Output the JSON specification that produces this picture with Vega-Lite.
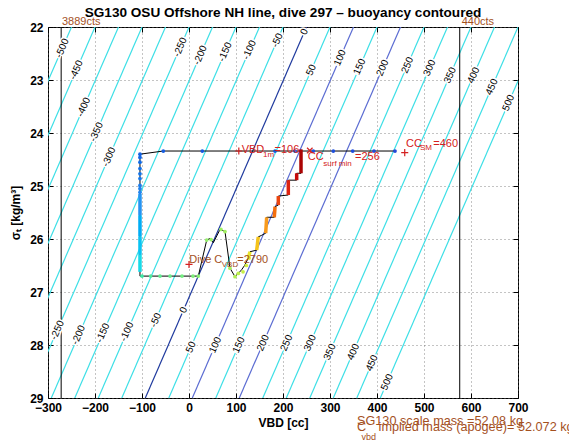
{
"$schema":"https://vega.github.io/schema/vega-lite/v6.json",
"width":470,"height":371,
"autosize":{"type":"none"},
"padding":{"left":48,"top":27,"right":51,"bottom":44},
"background":"white",
"title":{"text":"SG130 OSU Offshore NH line, dive 297 – buoyancy contoured","font":"Liberation Sans","fontSize":13.6,"fontWeight":"bold","color":"#000","offset":-4,"anchor":"middle"},
"config":{"font":"Liberation Sans","view":{"stroke":"#000","strokeWidth":1},
"axis":{"domain":false,"tickColor":"#000","tickWidth":1,"labelFont":"Liberation Sans","labelFontSize":12,"labelFontWeight":"bold","labelColor":"#000","titleFont":"Liberation Sans","titleFontSize":12,"titleFontWeight":"bold","titleColor":"#000","gridColor":"#6b6b6b","gridDash":[1,3],"gridOpacity":1,"gridWidth":0.8},
"text":{"font":"Liberation Sans"}},
"datasets":{
"contours":[
{"B":-500,"v":-250,"s":22},{"B":-500,"v":-593,"s":29},
{"B":-450,"v":-200,"s":22},{"B":-450,"v":-543,"s":29},
{"B":-400,"v":-150,"s":22},{"B":-400,"v":-493,"s":29},
{"B":-350,"v":-100,"s":22},{"B":-350,"v":-443,"s":29},
{"B":-300,"v":-50,"s":22},{"B":-300,"v":-393,"s":29},
{"B":-250,"v":0,"s":22},{"B":-250,"v":-343,"s":29},
{"B":-200,"v":50,"s":22},{"B":-200,"v":-293,"s":29},
{"B":-150,"v":100,"s":22},{"B":-150,"v":-243,"s":29},
{"B":-100,"v":150,"s":22},{"B":-100,"v":-193,"s":29},
{"B":-50,"v":200,"s":22},{"B":-50,"v":-143,"s":29},
{"B":0,"v":250,"s":22},{"B":0,"v":-93,"s":29},
{"B":50,"v":300,"s":22},{"B":50,"v":-43,"s":29},
{"B":100,"v":350,"s":22},{"B":100,"v":7,"s":29},
{"B":150,"v":400,"s":22},{"B":150,"v":57,"s":29},
{"B":200,"v":450,"s":22},{"B":200,"v":107,"s":29},
{"B":250,"v":500,"s":22},{"B":250,"v":157,"s":29},
{"B":300,"v":550,"s":22},{"B":300,"v":207,"s":29},
{"B":350,"v":600,"s":22},{"B":350,"v":257,"s":29},
{"B":400,"v":650,"s":22},{"B":400,"v":307,"s":29},
{"B":450,"v":700,"s":22},{"B":450,"v":357,"s":29},
{"B":500,"v":750,"s":22},{"B":500,"v":407,"s":29}
],
"clabels":[
{"B":"-500","v":-269.6,"s":22.40},{"B":"-450","v":-239.7,"s":22.81},{"B":"-400","v":-224.0,"s":23.51},{"B":"-350","v":-197.0,"s":23.98},{"B":"-300","v":-170.1,"s":24.45},
{"B":"-250","v":-18.5,"s":22.38},{"B":"-200","v":24.1,"s":22.53},{"B":"-150","v":76.9,"s":22.47},{"B":"-100","v":128.7,"s":22.43},{"B":"-50","v":188.0,"s":22.25},
{"B":"0","v":245.4,"s":22.09},{"B":"50","v":260.3,"s":22.81},{"B":"100","v":321.3,"s":22.58},{"B":"150","v":363.0,"s":22.75},{"B":"200","v":412.0,"s":22.77},
{"B":"250","v":464.9,"s":22.72},{"B":"300","v":512.0,"s":22.77},{"B":"350","v":555.6,"s":22.91},{"B":"400","v":605.6,"s":22.91},{"B":"450","v":644.5,"s":23.13},{"B":"500","v":679.7,"s":23.43},
{"B":"-250","v":-280.1,"s":27.72},{"B":"-200","v":-234.9,"s":27.81},{"B":"-150","v":-183.0,"s":27.77},{"B":"-100","v":-132.0,"s":27.75},{"B":"-50","v":-70.7,"s":27.53},
{"B":"0","v":-11.5,"s":27.34},{"B":"50","v":4.2,"s":28.04},{"B":"100","v":56.0,"s":28.0},{"B":"150","v":106.0,"s":28.0},{"B":"200","v":157.8,"s":27.96},
{"B":"250","v":207.8,"s":27.96},{"B":"300","v":257.8,"s":27.96},{"B":"350","v":299.6,"s":28.13},{"B":"400","v":349.6,"s":28.13},{"B":"450","v":389.3,"s":28.34},{"B":"500","v":421.7,"s":28.70}
],
"trace":[
{"i":1,"v":438.3,"s":24.34},{"i":2,"v":393.6,"s":24.34},{"i":3,"v":348.3,"s":24.34},{"i":4,"v":307,"s":24.34},{"i":5,"v":264.5,"s":24.34},
{"i":6,"v":225.5,"s":24.34},{"i":7,"v":183,"s":24.34},{"i":8,"v":28.3,"s":24.34},{"i":9,"v":-54.7,"s":24.34},{"i":10,"v":-104.3,"s":24.40},
{"i":11,"v":-104.3,"s":26.70},{"i":12,"v":19.8,"s":26.70},{"i":13,"v":37.7,"s":26.02},{"i":14,"v":44.7,"s":25.99},{"i":15,"v":51.7,"s":26.07},
{"i":16,"v":66.0,"s":25.82},{"i":17,"v":76.6,"s":25.86},{"i":18,"v":87.2,"s":26.55},{"i":19,"v":97.9,"s":26.71},{"i":20,"v":104.9,"s":26.65},
{"i":21,"v":112,"s":26.58},{"i":22,"v":119,"s":26.49},{"i":23,"v":126,"s":26.36},{"i":24,"v":129.8,"s":26.24},{"i":25,"v":144,"s":26.21},
{"i":26,"v":147.4,"s":25.96},{"i":27,"v":154.7,"s":25.93},{"i":28,"v":163.2,"s":25.89},{"i":29,"v":165.3,"s":25.59},{"i":30,"v":181.5,"s":25.59},
{"i":31,"v":183,"s":25.39},{"i":32,"v":190,"s":25.36},{"i":33,"v":190,"s":25.19},{"i":34,"v":211.3,"s":25.17},{"i":35,"v":211.3,"s":24.89},
{"i":36,"v":229.1,"s":24.89},{"i":37,"v":229.1,"s":24.76},{"i":38,"v":238.3,"s":24.76},{"i":39,"v":238.3,"s":24.31}
],
"runs":[
{"t":16,"v":-104.3,"v2":-104.3,"s":25.15,"s2":25.55},
{"t":21,"v":-104.3,"v2":-104.3,"s":25.55,"s2":25.95},
{"t":26,"v":-104.3,"v2":-104.3,"s":25.95,"s2":26.3},
{"t":32,"v":-104.3,"v2":-104.3,"s":26.3,"s2":26.62},
{"t":56,"v":126,"v2":129.8,"s":26.36,"s2":26.24},
{"t":62,"v":144,"v2":147.4,"s":26.21,"s2":25.96},
{"t":69,"v":163.2,"v2":165.3,"s":25.89,"s2":25.59},
{"t":76,"v":181.5,"v2":183,"s":25.59,"s2":25.39},
{"t":82,"v":190,"v2":190,"s":25.36,"s2":25.19},
{"t":88,"v":211.3,"v2":211.3,"s":25.17,"s2":24.89},
{"t":93,"v":229.1,"v2":229.1,"s":24.89,"s2":24.76},
{"t":98,"v":238.3,"v2":238.3,"s":24.76,"s2":24.31}
],
"dots":[
{"t":0,"v":438.3,"s":24.34},{"t":0.5,"v":393.6,"s":24.34},{"t":1,"v":348.3,"s":24.34},{"t":1.5,"v":307,"s":24.34},{"t":2,"v":264.5,"s":24.34},
{"t":2.5,"v":225.5,"s":24.34},{"t":3,"v":183,"s":24.34},{"t":3.5,"v":28.3,"s":24.34},{"t":4,"v":-54.7,"s":24.34},
{"t":5,"v":-104.3,"s":24.40},{"t":6,"v":-104.3,"s":24.46},{"t":7,"v":-104.3,"s":24.55},{"t":8,"v":-104.3,"s":24.67},{"t":9,"v":-104.3,"s":24.77},
{"t":10,"v":-104.3,"s":24.86},{"t":11,"v":-104.3,"s":24.99},{"t":12,"v":-104.3,"s":25.05},{"t":13,"v":-104.3,"s":25.12},
{"t":40,"v":-100,"s":26.70},{"t":41,"v":-81.7,"s":26.70},{"t":42,"v":-61.7,"s":26.70},{"t":43,"v":-40.4,"s":26.70},{"t":44,"v":-14.9,"s":26.70},
{"t":45,"v":8.5,"s":26.70},{"t":46,"v":19.8,"s":26.70},
{"t":47,"v":37.7,"s":26.02},{"t":47.5,"v":47,"s":26.01},{"t":48,"v":68,"s":25.82},{"t":48.5,"v":76.6,"s":25.86},{"t":49,"v":87.2,"s":26.55},
{"t":50,"v":97.9,"s":26.71},{"t":51,"v":104.9,"s":26.65},{"t":52,"v":115,"s":26.62},{"t":53,"v":122,"s":26.5},{"t":55,"v":128,"s":26.36}
]
},
"encoding":{
"x":{"field":"v","type":"quantitative","scale":{"domain":[-300,700],"nice":false,"zero":false},"axis":null},
"y":{"field":"s","type":"quantitative","scale":{"domain":[22,29],"reverse":true,"nice":false,"zero":false},"axis":null}
},
"layer":[
{"data":{"name":"contours"},"mark":{"type":"line","clip":true,"strokeWidth":1.2},
"encoding":{
"x":{"field":"v","type":"quantitative","scale":{"domain":[-300,700],"nice":false,"zero":false},
"axis":{"orient":"bottom","values":[-300,-200,-100,0,100,200,300,400,500,600,700],"format":"d","tickSize":-5,"labelPadding":9,"labelFlush":false,"labelOverlap":false,"grid":true,"title":"VBD [cc]","titlePadding":4}},
"y":{"field":"s","type":"quantitative","scale":{"domain":[22,29],"reverse":true,"nice":false,"zero":false},
"axis":{"orient":"left","values":[22,23,24,25,26,27,28,29],"format":"d","tickSize":-5,"labelPadding":10,"labelOverlap":false,"grid":true,"title":"σₜ [kg/m³]","titlePadding":7}},
"detail":{"field":"B","type":"nominal"},
"order":{"field":"s"},
"color":{"condition":[{"test":"datum.B === 0","value":"#1f3a9e"},{"test":"datum.B === 100 || datum.B === 200","value":"#5b6cd2"}],"value":"#3ddfe6"}}},
{"data":{"values":[{"v":-272,"s":22,"s2":29},{"v":576,"s":22,"s2":29}]},"mark":{"type":"rule","color":"#000","strokeWidth":1},
"encoding":{"y2":{"field":"s2"}}},
{"data":{"name":"clabels"},"mark":{"type":"text","angle":-66.5,"fontSize":10,"fill":"white","stroke":"white","strokeWidth":3,"align":"center","baseline":"middle"},
"encoding":{"text":{"field":"B","type":"nominal"}}},
{"data":{"name":"clabels"},"mark":{"type":"text","angle":-66.5,"fontSize":10,"color":"#000","align":"center","baseline":"middle"},
"encoding":{"text":{"field":"B","type":"nominal"}}},
{"data":{"name":"trace"},"mark":{"type":"line","color":"#000","strokeWidth":1},
"encoding":{
"x":{"field":"v","type":"quantitative","scale":{"domain":[-300,700],"nice":false,"zero":false},
"axis":{"orient":"top","values":[-300,-200,-100,0,100,200,300,400,500,600,700],"tickSize":-5,"labels":false,"grid":false,"title":null}},
"y":{"field":"s","type":"quantitative","scale":{"domain":[22,29],"reverse":true,"nice":false,"zero":false},
"axis":{"orient":"right","values":[22,23,24,25,26,27,28,29],"tickSize":-5,"labels":false,"grid":false,"title":null}},
"order":{"field":"i"}}},
{"data":{"name":"runs"},"mark":{"type":"rule","strokeWidth":3.5},
"encoding":{"x2":{"field":"v2"},"y2":{"field":"s2"},
"color":{"field":"t","type":"quantitative","legend":null,"scale":{"domain":[0,15,30,42,55,68,80,90,100],"range":["#2448d8","#2f8ff0","#3fd4f0","#60ec90","#e8ec30","#f8a020","#f05010","#d81010","#a00000"]}}}},
{"data":{"name":"dots"},"mark":{"type":"circle","size":14,"opacity":1},
"encoding":{"color":{"field":"t","type":"quantitative","legend":null,"scale":{"domain":[0,15,30,42,55,68,80,90,100],"range":["#2448d8","#2f8ff0","#3fd4f0","#60ec90","#e8ec30","#f8a020","#f05010","#d81010","#a00000"]}}}},
{"data":{"values":[{"v":106,"s":24.34},{"v":459,"s":24.37},{"v":0,"s":26.48}]},"mark":{"type":"point","shape":"M-1,0L1,0M0,-1L0,1","filled":false,"stroke":"#d42020","strokeWidth":1.2,"size":50,"opacity":1}},
{"data":{"values":[{"v":257,"s":24.33}]},"mark":{"type":"point","shape":"M-1,-1L1,1M-1,1L1,-1","filled":false,"stroke":"#d42020","strokeWidth":1.2,"size":30,"opacity":1}},
{"data":{"values":[{"txt":"VBD","v":112.1,"s":24.377},{"txt":"=106","v":181.9,"s":24.377},{"txt":"CC","v":252.6,"s":24.51},{"txt":"=256","v":353.2,"s":24.51},{"txt":"CC","v":461.7,"s":24.26},{"txt":"=460","v":519.8,"s":24.26}]},
"mark":{"type":"text","align":"left","baseline":"alphabetic","fontSize":11,"color":"#d42020"},"encoding":{"text":{"field":"txt"}}},
{"data":{"values":[{"txt":"1m","v":157.4,"s":24.46},{"txt":"surf min","v":285.7,"s":24.62},{"txt":"SM","v":491.5,"s":24.33}]},
"mark":{"type":"text","align":"left","baseline":"alphabetic","fontSize":8,"color":"#d42020"},"encoding":{"text":{"field":"txt"}}},
{"data":{"values":[{"txt":"Dive C","v":0.6,"s":26.46},{"txt":"=2790","v":102.8,"s":26.46},{"txt":"3889cts","v":-270.2,"s":21.962},{"txt":"440cts","v":580.2,"s":21.962}]},
"mark":{"type":"text","align":"left","baseline":"alphabetic","fontSize":11,"color":"#a4501e"},"encoding":{"text":{"field":"txt"}}},
{"data":{"values":[{"txt":"VBD","v":69.6,"s":26.52}]},
"mark":{"type":"text","align":"left","baseline":"alphabetic","fontSize":8,"color":"#a4501e"},"encoding":{"text":{"field":"txt"}}},
{"data":{"values":[{"txt":"SG130 scale mass =52.08 kg","v":357.4,"s":29.51},{"txt":"C","v":357.4,"s":29.62},{"txt":"implied mass (apogee)= 52.072 kg","v":403.4,"s":29.62}]},
"mark":{"type":"text","align":"left","baseline":"alphabetic","fontSize":12.7,"color":"#a4501e"},"encoding":{"text":{"field":"txt"}}},
{"data":{"values":[{"txt":"vbd","v":366.9,"s":29.79}]},
"mark":{"type":"text","align":"left","baseline":"alphabetic","fontSize":9,"color":"#a4501e"},"encoding":{"text":{"field":"txt"}}}
],
"resolve":{"axis":{"x":"independent","y":"independent"}}
}
